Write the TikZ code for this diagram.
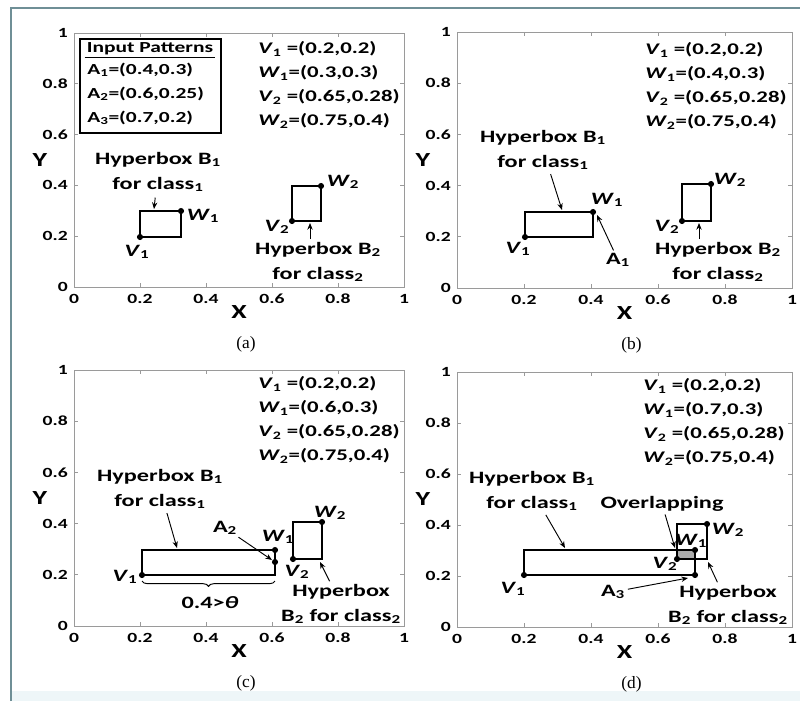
\documentclass[tikz,border=0pt]{standalone}
\usepackage{fontspec}
\setmainfont{Liberation Serif}
\newfontfamily\lblfont{Carlito}[FakeStretch=1.4]
\usetikzlibrary{arrows.meta,decorations.pathreplacing}
\definecolor{framecol}{HTML}{6F8F96}
\definecolor{axiscol}{HTML}{9A9A9A}
\definecolor{stripcol}{HTML}{EEF6F8}

\tikzset{
  axisbox/.style={draw=axiscol, line width=0.6pt},
  ticklbl/.style={font=\lblfont\bfseries\fontsize{10.5}{12}\selectfont, inner sep=0pt},
  axlbl/.style={font=\lblfont\bfseries\fontsize{15}{18}\selectfont, inner sep=0pt},
  lbl/.style={font=\lblfont\bfseries\fontsize{13}{19}\selectfont, inner sep=1pt},
  listtxt/.style={font=\lblfont\bfseries\fontsize{12.2}{18}\selectfont, inner sep=0pt, align=left},
  inptxt/.style={font=\lblfont\bfseries\fontsize{11.5}{18}\selectfont, inner sep=1.5pt},
  captxt/.style={font=\fontsize{13}{15}\selectfont, inner sep=0pt},
  hbox/.style={draw, line width=1.1pt},
  pointer/.style={-{Stealth[length=5pt,width=4pt]}, line width=0.7pt, shorten <=1pt}
}

\begin{document}
\begin{tikzpicture}[x=0.75pt, y=-0.75pt]
  \useasboundingbox (0,0) rectangle (800,701);
  \fill[white] (0,0) rectangle (800,701);
  \fill[stripcol] (11,691) rectangle (800,701);
  % Outer frame
  \draw[framecol, line width=1.5pt] (11,701) -- (11,8) -- (800,8);

  % Axes, ticks and captions of the four panels
  \foreach \ox/\oy/\w/\h/\p in {74/287/330/254/a, 457/288/335/256/b, 74/626/330/256/c, 457/627/335/255/d} {
    \draw[axisbox] (\ox,\oy) rectangle (\ox+\w,\oy-\h);
    \foreach \t [count=\i] in {0,0.2,0.4,0.6,0.8,1} {
      \draw[axisbox] ({\ox+\t*\w},\oy) -- ++(0,-4);
      \draw[axisbox] ({\ox+\t*\w},\oy-\h) -- ++(0,4);
      \draw[axisbox] (\ox,{\oy-\t*\h}) -- ++(4,0);
      \draw[axisbox] (\ox+\w,{\oy-\t*\h}) -- ++(-4,0);
      \node[ticklbl, anchor=north] (tx\p\i) at ({\ox+\t*\w},\oy+7) {\t};
      \node[ticklbl, anchor=east] (ty\p\i) at (\ox-6,{\oy-\t*\h}) {\t};
    }
    \node[axlbl] (x\p) at (\ox+0.5*\w,\oy+25) {X};
    \node[axlbl] (y\p) at (\ox-34,\oy-0.5*\h) {Y};
    \node[captxt] (cap\p) at (\ox+0.5*\w+7,\oy+57) {(\p)};
  }

  % Hyperbox corner lists
  \foreach \lx/\ly/\wv/\p in {258/85/0.3/a, 645/86/0.4/b, 258/420/0.6/c, 643/422/0.7/d} {
    \node[listtxt, anchor=west] (list\p) at (\lx,\ly)
      {\textit{V}\textsubscript{1} =(0.2,0.2)\\
       \textit{W}\textsubscript{1}=(\wv,0.3)\\
       \textit{V}\textsubscript{2} =(0.65,0.28)\\
       \textit{W}\textsubscript{2}=(0.75,0.4)};
  }

  % Panel (a)
  \node[draw, line width=0.8pt, minimum width=105.75pt, minimum height=70.5pt] (inp) at (150.5,86) {};
  \node[inptxt] (inphd) at (150,49) {Input Patterns};
  \draw[line width=0.6pt] (inphd.south west) -- (inphd.south east);
  \node[inptxt, align=left, anchor=west, inner sep=0pt] (inprows) at (87,94)
    {A\textsubscript{1}=(0.4,0.3)\\A\textsubscript{2}=(0.6,0.25)\\A\textsubscript{3}=(0.7,0.2)};
  \coordinate (V1a) at (140,237);
  \coordinate (W1a) at (181,211);
  \coordinate (V2a) at (292,221);
  \coordinate (W2a) at (321,186);
  \draw[hbox] (V1a) rectangle (W1a);
  \draw[hbox] (V2a) rectangle (W2a);
  \foreach \c in {V1a,W1a,V2a,W2a} \fill (\c) circle[radius=2.3pt];
  \node[lbl] (lV1a) at (137,252) {\textit{V}\textsubscript{1}};
  \node[lbl] (lW1a) at (203,216) {\textit{W}\textsubscript{1}};
  \node[lbl] (lV2a) at (277,227) {\textit{V}\textsubscript{2}};
  \node[lbl] (lW2a) at (343,182) {\textit{W}\textsubscript{2}};
  \node[lbl, align=center] (hb1a) at (158,172) {Hyperbox B\textsubscript{1}\\for class\textsubscript{1}};
  \node[lbl, align=center] (hb2a) at (318,262) {Hyperbox B\textsubscript{2}\\for class\textsubscript{2}};
  \coordinate (tB1a) at (154,209);
  \coordinate (tB2a) at (310,223);
  \draw[pointer, shorten <=3pt] (hb1a) -- (tB1a);
  \draw[pointer] (hb2a.north -| tB2a) -- (tB2a);

  % Panel (b)
  \coordinate (V1b) at (525,237);
  \coordinate (W1b) at (593,212);
  \coordinate (V2b) at (682,221);
  \coordinate (W2b) at (711,184);
  \draw[hbox] (V1b) rectangle (W1b);
  \draw[hbox] (V2b) rectangle (W2b);
  \draw[line width=1.8pt] (V2b |- W2b) -- (W2b) -- (W2b |- V2b);
  \foreach \c in {V1b,W1b,V2b,W2b} \fill (\c) circle[radius=2.3pt];
  \node[lbl] (lV1b) at (518,249) {\textit{V}\textsubscript{1}};
  \node[lbl] (lW1b) at (607,200) {\textit{W}\textsubscript{1}};
  \node[lbl] (lV2b) at (667,227) {\textit{V}\textsubscript{2}};
  \node[lbl] (lW2b) at (730,180) {\textit{W}\textsubscript{2}};
  \node[lbl] (lA1b) at (618,260) {A\textsubscript{1}};
  \node[lbl, align=center] (hb1b) at (543,150) {Hyperbox B\textsubscript{1}\\for class\textsubscript{1}};
  \node[lbl, align=center] (hb2b) at (718,262) {Hyperbox B\textsubscript{2}\\for class\textsubscript{2}};
  \coordinate (tB1b) at (562,210);
  \coordinate (tA1b) at (597,215);
  \coordinate (tB2b) at (699,223);
  \draw[pointer, shorten <=2pt] (hb1b) -- (tB1b);
  \draw[pointer] (lA1b) -- (tA1b);
  \draw[pointer] (hb2b.north -| tB2b) -- (tB2b);

  % Panel (c)
  \coordinate (V1c) at (142,575);
  \coordinate (W1c) at (275,550);
  \coordinate (A2c) at (275,562);
  \coordinate (V2c) at (293,559);
  \coordinate (W2c) at (322,522);
  \draw[hbox] (V1c) rectangle (W1c);
  \draw[hbox] (V2c) rectangle (W2c);
  \foreach \c in {V1c,W1c,A2c,V2c,W2c} \fill (\c) circle[radius=2.3pt];
  \node[lbl] (lV1c) at (125,577) {\textit{V}\textsubscript{1}};
  \node[lbl] (lW1c) at (278,537) {\textit{W}\textsubscript{1}};
  \node[lbl] (lV2c) at (297,572) {\textit{V}\textsubscript{2}};
  \node[lbl] (lW2c) at (330,513) {\textit{W}\textsubscript{2}};
  \node[lbl] (lA2c) at (225,528) {A\textsubscript{2}};
  \node[lbl, align=center] (hb1c) at (160,489) {Hyperbox B\textsubscript{1}\\for class\textsubscript{1}};
  \node[lbl, align=center] (hb2c) at (341,604) {Hyperbox\\B\textsubscript{2} for class\textsubscript{2}};
  \coordinate (brL) at (142,581);
  \coordinate (brR) at (275,581);
  \draw[line width=0.7pt, decorate, decoration={brace, mirror, amplitude=4pt}] (brL) -- (brR);
  \node[lbl] (thc) at (210,603) {0.4>\textit{θ}};
  \coordinate (tB1c) at (177,548);
  \coordinate (tA2c) at (272,560);
  \coordinate (tB2c) at (320,562);
  \draw[pointer, shorten <=2pt] (hb1c) -- (tB1c);
  \draw[pointer] (lA2c) -- (tA2c);
  \draw[pointer] (hb2c) -- (tB2c);

  % Panel (d)
  \coordinate (V1d) at (524,575);
  \coordinate (W1d) at (695,550);
  \coordinate (A3d) at (695,575);
  \coordinate (V2d) at (677,559);
  \coordinate (W2d) at (707,524);
  \fill[gray!65] (V2d) rectangle (W1d);
  \draw[hbox] (V1d) rectangle (W1d);
  \draw[hbox] (V2d) rectangle (W2d);
  \draw[line width=2pt] (W1d) -- (A3d);
  \foreach \c in {V1d,W1d,A3d,V2d,W2d} \fill (\c) circle[radius=2.3pt];
  \node[lbl] (lV1d) at (513,589) {\textit{V}\textsubscript{1}};
  \node[lbl] (lW1d) at (691,541) {\textit{W}\textsubscript{1}};
  \node[lbl] (lV2d) at (665,564) {\textit{V}\textsubscript{2}};
  \node[lbl] (lW2d) at (728,530) {\textit{W}\textsubscript{2}};
  \node[lbl] (lA3d) at (613,592) {A\textsubscript{3}};
  \node[lbl, align=center] (hb1d) at (532,491) {Hyperbox B\textsubscript{1}\\for class\textsubscript{1}};
  \node[lbl] (ovd) at (662,504) {Overlapping};
  \node[lbl, align=center] (hb2d) at (728,605) {Hyperbox\\B\textsubscript{2} for class\textsubscript{2}};
  \coordinate (tB1d) at (565,548);
  \coordinate (tOvd) at (675,548);
  \coordinate (tA3d) at (688,578);
  \coordinate (tB2d) at (708,562);
  \draw[pointer, shorten <=2pt] (hb1d) -- (tB1d);
  \draw[pointer] (ovd) -- (tOvd);
  \draw[pointer] (lA3d) -- (tA3d);
  \draw[pointer] (hb2d) -- (tB2d);
\end{tikzpicture}
\end{document}
